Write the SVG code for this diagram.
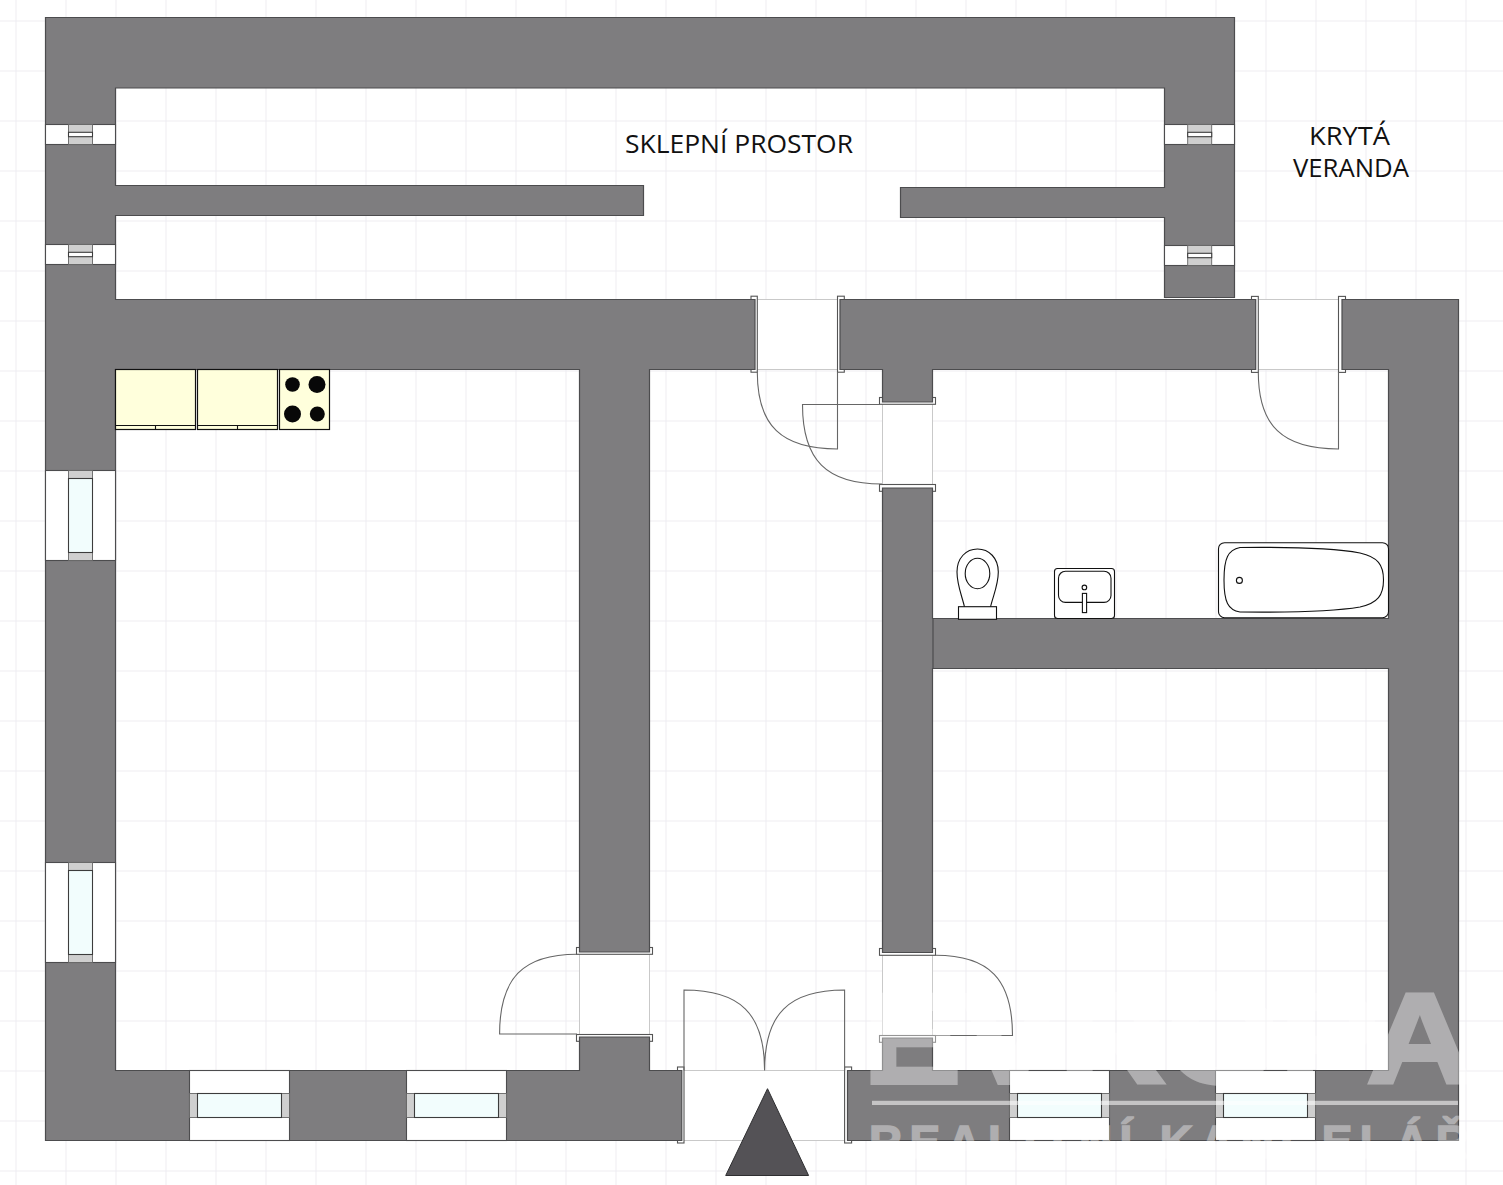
<svg xmlns="http://www.w3.org/2000/svg" width="1503" height="1185" viewBox="0 0 1503 1185">
<style>
.wall{fill:#7e7d7f;stroke:#4c4c4e;stroke-width:1.2}
.open{fill:#fff}
.sill{stroke:#c9c9c9;stroke-width:1;fill:none}
.jamb{fill:#fff;stroke:#555;stroke-width:1.1}
.leaf{fill:none;stroke:#666;stroke-width:1.1}
.winb{fill:#fff;stroke:#4c4c4e;stroke-width:1.1}
.glass{fill:#f2fdfd;stroke:#3c3c3c;stroke-width:1.1}
.cap{fill:#cfcfcf;stroke:#666;stroke-width:.9}
.pane{fill:#fff;stroke:#3c3c3c;stroke-width:1.1}
.cab{fill:#ffffdc;stroke:#111;stroke-width:1.2}
.fix{fill:#fff;stroke:#111;stroke-width:1.1}
.label{font-family:"Open Sans","Noto Sans",sans-serif;font-size:26px;fill:#111;text-anchor:middle}
.wm{font-family:"Liberation Sans",Arial,sans-serif;font-weight:700;fill:#fff;stroke:#fff;opacity:.38}
</style>
<defs>
<pattern id="grid" width="50" height="50" patternUnits="userSpaceOnUse" x="15.5" y="20.5">
<path d="M.5 0V50M0 .5H50" fill="none" stroke="#eeecf1" stroke-width="1"/>
</pattern>
</defs>
<rect width="1503" height="1185" fill="#fff"/>
<rect id="floor-grid" width="1503" height="1185" fill="url(#grid)"/>

<g id="door-openings">
<rect class="open" x="757" y="299.5" width="81" height="70"/>
<rect class="open" x="1258" y="299.5" width="81" height="70"/>
<rect class="open" x="882.5" y="403" width="50" height="83"/>
<rect class="open" x="579.5" y="953" width="70" height="82"/>
<rect class="open" x="882.5" y="954" width="50" height="82"/>
<rect class="open" x="684" y="1070.5" width="161" height="70"/>
<path class="sill" d="M757 299.5H838M757 369.5H838M1258 299.5H1339M1258 369.5H1339M882.5 403V486M932.5 403V486M579.5 953V1035M649.5 953V1035M882.5 954V1036M932.5 954V1036M684 1070.5H845M684 1140.5H845"/>
</g>

<g id="door-jambs">
<rect class="jamb" x="751" y="296.2" width="6.3" height="76"/>
<rect class="jamb" x="837.5" y="296.2" width="6.8" height="76"/>
<rect class="jamb" x="1251.5" y="296.4" width="6.8" height="76"/>
<rect class="jamb" x="1338.5" y="296.4" width="7" height="76"/>
<rect class="jamb" x="879.5" y="397.5" width="56" height="6.8"/>
<rect class="jamb" x="879.5" y="484.5" width="56" height="6.8"/>
<rect class="jamb" x="576.5" y="947.5" width="76" height="6.8"/>
<rect class="jamb" x="576.5" y="1034.5" width="76" height="6.8"/>
<rect class="jamb" x="879.5" y="948.5" width="56" height="6.8"/>
<rect class="jamb" x="879.5" y="1035.5" width="56" height="6.8"/>
<rect class="jamb" x="677.5" y="1067" width="6.5" height="76"/>
<rect class="jamb" x="844.6" y="1067" width="7" height="76"/>
</g>

<g id="walls">
<path class="wall" d="M45.5 17.5H1234.5V297.5H1164.5V217.5H900.5V187.5H1164.5V88H115.5V185.5H643.5V215.5H115.5V299.5H755V369.5H649.5V952H579.5V369.5H115.5V1070.5H579.5V1037H649.5V1070.5H681.8V1140.5H45.5Z"/>
<path class="wall" d="M840 299.5H1255.7V369.5H932.5V402H882.5V369.5H840Z"/>
<path class="wall" d="M882.5 488H932.5V618.5H1388.5V369.5H1342V299.5H1458.5V1140.5H847.5V1070.5H882.5V1038H932.5V1070.5H1388.5V668.5H932.5V952.5H882.5Z"/>
<path d="M933 618.5V668.5" stroke="#4c4c4e" stroke-width="1.2"/>
</g>

<g id="door-leaves">
<path class="leaf" d="M757.3 372C757.3 425.9 781.4 449 837.5 449V372"/>
<path class="leaf" d="M1258.3 372C1258.3 425.9 1282.4 449 1338.5 449V372"/>
<path class="leaf" d="M882 484C826.4 484 802.5 460.1 802.5 404.5H880"/>
<path class="leaf" d="M577 954.3C522.8 954.3 499.6 978.2 499.6 1034H577"/>
<path class="leaf" d="M935.5 955.3C989.4 955.3 1012.5 979.4 1012.5 1035.5H935.5"/>
<path class="leaf" d="M684 1070.5V990C740.4 990 764.6 1013.9 764.6 1070.5C764.6 1013.9 788.6 990 844.6 990V1070.5"/>
</g>

<g id="windows-cellar">
<rect class="winb" x="45.5" y="124.5" width="70" height="20"/>
<rect class="cap" x="68.5" y="124.5" width="24" height="20"/><rect class="pane" x="68.5" y="132.3" width="24" height="4.4"/>
<rect class="winb" x="45.5" y="244.5" width="70" height="20"/>
<rect class="cap" x="68.5" y="244.5" width="24" height="20"/><rect class="pane" x="68.5" y="252.3" width="24" height="4.4"/>
<rect class="winb" x="1164.5" y="124.5" width="70" height="20"/>
<rect class="cap" x="1187.7" y="124.5" width="24" height="20"/><rect class="pane" x="1187.7" y="132.3" width="24" height="4.4"/>
<rect class="winb" x="1164.5" y="245.5" width="70" height="20"/>
<rect class="cap" x="1187.7" y="245.5" width="24" height="20"/><rect class="pane" x="1187.7" y="253.3" width="24" height="4.4"/>
</g>

<g id="windows-left">
<rect class="winb" x="45.5" y="470.5" width="70" height="90"/>
<rect class="cap" x="68.5" y="470.5" width="24" height="90"/><rect class="glass" x="68.5" y="478.5" width="24" height="74"/>
<rect class="winb" x="45.5" y="862.5" width="70" height="100"/>
<rect class="cap" x="68.5" y="862.5" width="24" height="100"/><rect class="glass" x="68.5" y="870.5" width="24" height="84"/>
</g>

<g id="windows-bottom">
<rect class="winb" x="189.5" y="1070.5" width="100" height="70"/>
<rect class="cap" x="189.5" y="1093.5" width="100" height="24"/><rect class="glass" x="197.5" y="1093.5" width="84" height="24"/>
<rect class="winb" x="406.5" y="1070.5" width="100" height="70"/>
<rect class="cap" x="406.5" y="1093.5" width="100" height="24"/><rect class="glass" x="414.5" y="1093.5" width="84" height="24"/>
<rect class="winb" x="1009.5" y="1070.5" width="100" height="70"/>
<rect class="cap" x="1009.5" y="1093.5" width="100" height="24"/><rect class="glass" x="1017.5" y="1093.5" width="84" height="24"/>
<rect class="winb" x="1215.5" y="1070.5" width="100" height="70"/>
<rect class="cap" x="1215.5" y="1093.5" width="100" height="24"/><rect class="glass" x="1223.5" y="1093.5" width="84" height="24"/>
</g>

<g id="kitchen">
<rect class="cab" x="115.5" y="369.5" width="80" height="60"/>
<path class="fix" d="M115.5 425.5H195.5M155.5 425.5V429.5"/>
<rect class="cab" x="197.5" y="369.5" width="80" height="60"/>
<path class="fix" d="M197.5 425.5H277.5M237.5 425.5V429.5"/>
<rect class="cab" x="279.5" y="369.5" width="50" height="60"/>
<circle cx="292.5" cy="384.5" r="7.3" fill="#080808"/>
<circle cx="317" cy="384.5" r="8.5" fill="#080808"/>
<circle cx="292.5" cy="414" r="8.5" fill="#080808"/>
<circle cx="317.3" cy="414" r="7.5" fill="#080808"/>
</g>

<g id="toilet">
<path class="fix" d="M964.5 607C962 596 957 585 957 572C957 558 966 549 977.5 549C989 549 998.3 558 998.3 572C998.3 585 993 596 990.5 607"/>
<ellipse class="fix" cx="977.5" cy="573.5" rx="12.3" ry="15.2"/>
<rect class="fix" x="958.5" y="606.7" width="38" height="12.6"/>
</g>
<g id="sink">
<rect class="fix" x="1054.5" y="568.5" width="60" height="50" rx="3"/>
<rect class="fix" x="1058.5" y="571.2" width="52.5" height="31.2" rx="7"/>
<circle class="fix" cx="1084.4" cy="587.4" r="2.3"/>
<rect class="fix" x="1082.4" y="593.4" width="4.2" height="19.2"/>
</g>
<g id="bathtub">
<rect class="fix" x="1218.5" y="542.7" width="170" height="75" rx="6"/>
<path class="fix" d="M1240 547.5C1285 547 1330 547.5 1360 553C1378 557 1383.5 565 1383.5 580C1383.5 595 1378 603 1360 607C1330 612 1285 612.5 1240 612C1228 610 1224 602 1224 580C1224 558 1228 550 1240 547.5Z"/>
<circle class="fix" cx="1239.4" cy="580.4" r="3"/>
</g>

<path id="entrance-triangle" d="M767.5 1088.7L808.6 1175.5H725.7Z" fill="#545256" stroke="#2e2e30" stroke-width="1"/>

<g id="labels">
<text class="label" x="739" y="153" textLength="228" lengthAdjust="spacingAndGlyphs">SKLEPNÍ PROSTOR</text>
<text class="label" x="1349.5" y="144.5" textLength="81" lengthAdjust="spacingAndGlyphs">KRYTÁ</text>
<text class="label" x="1351" y="177" textLength="116" lengthAdjust="spacingAndGlyphs">VERANDA</text>
</g>

<g id="watermark">
<text class="wm" x="863" y="1083" font-size="128" stroke-width="4" textLength="610" lengthAdjust="spacingAndGlyphs">EVROPA</text>
<rect x="872" y="1100.8" width="586" height="4.2" fill="#fff" fill-opacity=".55"/>
<text class="wm" x="869" y="1158" font-size="46" stroke-width="1.5" textLength="600" lengthAdjust="spacing">REALITNÍ KANCELÁŘ</text>
</g>
</svg>
